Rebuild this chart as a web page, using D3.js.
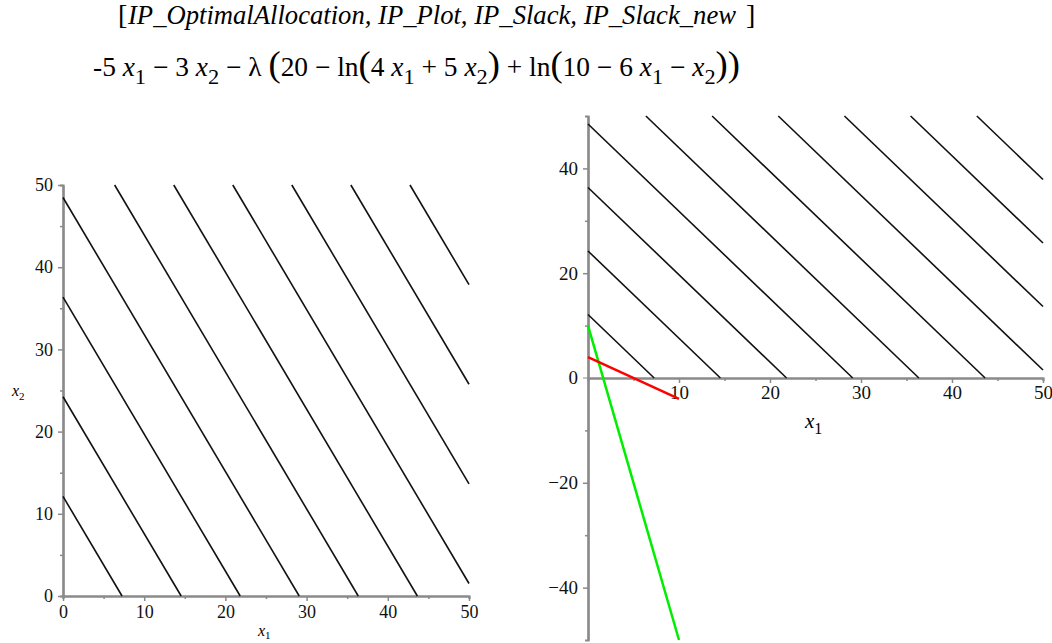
<!DOCTYPE html>
<html>
<head>
<meta charset="utf-8">
<script src="https://cdn.jsdelivr.net/npm/d3@7"></script>
<style>
  body { margin: 0; background: #fff; }
  svg { display: block; }
  .tick text { font-family: "Liberation Serif", "Times New Roman", serif; font-size: 18px; fill: #111; }
  .right .tick text { font-size: 19px; }
  .domain, .tick line { stroke: #8a8a8a; }
</style>
</head>
<body>
<div id="chart"></div>
<script>
// contour segments of 5*x1 + 3*x2 = c, endpoints [x1a, x2a, x1b, x2b]
var contourLevels = [36.4, 72.7, 109.1, 145.5, 181.8, 218.2, 254.5, 290.9, 327.3, 363.6];
var contourSegs = [
  [0, 12.12, 7.27, 0],
  [0, 24.24, 14.55, 0],
  [0, 36.36, 21.82, 0],
  [0, 48.48, 29.09, 0],
  [6.36, 50, 36.36, 0],
  [13.64, 50, 43.64, 0],
  [20.91, 50, 50, 1.52],
  [28.18, 50, 50, 13.64],
  [35.45, 50, 50, 25.76],
  [42.73, 50, 50, 37.88]
];
// constraint lines in the right plot
var redLine = [[0, 4], [10, -4]];      // 4 x1 + 5 x2 = 20
var greenLine = [[0, 10], [10, -50]];  // 10 - 6 x1 - x2 = 0

var leftMajor = [0, 10, 20, 30, 40, 50];
var leftMinor = [5, 15, 25, 35, 45];
var rightXMajor = [10, 20, 30, 40, 50];
var rightXMinor = [5, 15, 25, 35, 45];
var rightYMajor = [-40, -20, 20, 40];
var rightYMinor = [-30, -10, 10, 30];

var svg = d3.select("#chart").append("svg")
  .attr("width", 1052)
  .attr("height", 643);

// ---- heading ----
var serif = "'Liberation Serif', 'Times New Roman', serif";
svg.append("text").attr("x", 118).attr("y", 24)
  .style("font-family", serif).style("font-size", "28px").text("[");
svg.append("text").attr("x", 128).attr("y", 24)
  .style("font-family", serif).style("font-size", "28px").style("font-style", "italic")
  .attr("textLength", 608).attr("lengthAdjust", "spacingAndGlyphs")
  .text("IP_OptimalAllocation, IP_Plot, IP_Slack, IP_Slack_new");
svg.append("text").attr("x", 746).attr("y", 24)
  .style("font-family", serif).style("font-size", "28px").text("]");

var t2 = svg.append("text")
  .attr("x", 93).attr("y", 76)
  .style("font-family", serif).style("font-size", "27px").style("fill", "#000");

var parts = [
  ["-5 ", ""], ["x", "i"], ["1", "s"], [" \u2212 3 ", ""], ["x", "i"], ["2", "s"],
  [" \u2212 \u03bb ", ""], ["(", "p"], ["20 \u2212 ln", ""], ["(", "p"], ["4 ", ""], ["x", "i"], ["1", "s"],
  [" + 5 ", ""], ["x", "i"], ["2", "s"], [")", "p"], [" + ln", ""], ["(", "p"], ["10 \u2212 6 ", ""],
  ["x", "i"], ["1", "s"], [" \u2212 ", ""], ["x", "i"], ["2", "s"], [")", "p"], [")", "p"]
];
var prevSub = false;
parts.forEach(function(p) {
  var ts = t2.append("tspan").text(p[0]);
  if (p[1] == "i") ts.style("font-style", "italic");
  if (p[1] == "s") { ts.attr("dy", 8).style("font-size", "22px"); }
  else if (prevSub) ts.attr("dy", -8);
  if (p[1] == "p") ts.style("font-size", "36px");
  prevSub = p[1] == "s";
});
t2.attr("textLength", 647).attr("lengthAdjust", "spacingAndGlyphs");

// ---- left plot ----
var xL = d3.scaleLinear().domain([0, 50]).range([63, 469]);
var yL = d3.scaleLinear().domain([0, 50]).range([596, 185]);

var left = svg.append("g").attr("class", "left");

left.append("g").attr("transform", "translate(0,596)")
  .call(d3.axisBottom(xL).tickValues(leftMinor).tickSize(3).tickFormat(""));
left.append("g").attr("transform", "translate(63,0)")
  .call(d3.axisLeft(yL).tickValues(leftMinor).tickSize(3).tickFormat(""));
left.append("g").attr("transform", "translate(0,596)")
  .call(d3.axisBottom(xL).tickValues(leftMajor).tickSize(5).tickSizeOuter(0).tickPadding(4));
left.append("g").attr("transform", "translate(63,0)")
  .call(d3.axisLeft(yL).tickValues(leftMajor).tickSize(5).tickSizeOuter(0).tickPadding(5));

left.selectAll(".contour")
  .data(contourSegs)
  .enter().append("line")
  .attr("x1", function(d) { return xL(d[0]); })
  .attr("y1", function(d) { return yL(d[1]); })
  .attr("x2", function(d) { return xL(d[2]); })
  .attr("y2", function(d) { return yL(d[3]); })
  .attr("stroke", "#111")
  .attr("stroke-width", 1.6);

var lx1 = left.append("text").attr("x", 258).attr("y", 636)
  .style("font-family", serif).style("font-size", "16px");
lx1.append("tspan").style("font-style", "italic").text("x");
lx1.append("tspan").attr("dy", 3).style("font-size", "11px").text("1");

var lx2 = left.append("text").attr("x", 12).attr("y", 396)
  .style("font-family", serif).style("font-size", "16px");
lx2.append("tspan").style("font-style", "italic").text("x");
lx2.append("tspan").attr("dy", 4).style("font-size", "11px").text("2");

// ---- right plot ----
var xR = d3.scaleLinear().domain([0, 50]).range([588, 1043]);
var yR = d3.scaleLinear().domain([-50, 50]).range([640, 116]);

var right = svg.append("g").attr("class", "right");

right.append("g").attr("transform", "translate(0," + yR(0) + ")")
  .call(d3.axisBottom(xR).tickValues(rightXMinor).tickSize(3).tickFormat(""));
right.append("g").attr("transform", "translate(" + xR(0) + ",0)")
  .call(d3.axisLeft(yR).tickValues(rightYMinor).tickSize(3).tickFormat(""));
right.append("g").attr("transform", "translate(0," + yR(0) + ")")
  .call(d3.axisBottom(xR).tickValues(rightXMajor).tickSize(5).tickSizeOuter(0).tickPadding(3));
right.append("g").attr("transform", "translate(" + xR(0) + ",0)")
  .call(d3.axisLeft(yR).tickValues(rightYMajor).tickSize(5).tickSizeOuter(0).tickPadding(5)
    .tickFormat(function(d) { return d < 0 ? "\u2212" + (-d) : d; }));
// the zero label on the y side only
right.append("text")
  .attr("x", xR(0) - 10).attr("y", yR(0)).attr("dy", "0.32em")
  .attr("text-anchor", "end")
  .style("font-family", serif).style("font-size", "19px").style("fill", "#111")
  .text("0");
right.append("line")
  .attr("x1", xR(0) - 5).attr("x2", xR(0))
  .attr("y1", yR(0)).attr("y2", yR(0))
  .attr("stroke", "#8a8a8a");

right.selectAll(".contour")
  .data(contourSegs)
  .enter().append("line")
  .attr("x1", function(d) { return xR(d[0]); })
  .attr("y1", function(d) { return yR(d[1]); })
  .attr("x2", function(d) { return xR(d[2]); })
  .attr("y2", function(d) { return yR(d[3]); })
  .attr("stroke", "#111")
  .attr("stroke-width", 1.6);

var line = d3.line().x(function(d) { return xR(d[0]); }).y(function(d) { return yR(d[1]); });
right.append("path").datum(greenLine).attr("d", line)
  .attr("fill", "none").attr("stroke", "#00ee00").attr("stroke-width", 2.5);
right.append("path").datum(redLine).attr("d", line)
  .attr("fill", "none").attr("stroke", "#ff0000").attr("stroke-width", 2.5);

var rx1 = right.append("text").attr("x", 805).attr("y", 428)
  .style("font-family", serif).style("font-size", "21px");
rx1.append("tspan").style("font-style", "italic").text("x");
rx1.append("tspan").attr("dy", 6).style("font-size", "16px").text("1");

svg.selectAll(".domain").attr("stroke-width", 2.2);
svg.selectAll(".tick line").attr("stroke-width", 1.5);
</script>
</body>
</html>
